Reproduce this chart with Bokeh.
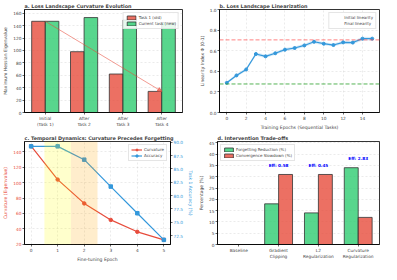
from bokeh.plotting import figure
from bokeh.layouts import column, row
from bokeh.models import (ColumnDataSource, FixedTicker, Range1d, LinearAxis, Span,
                          BoxAnnotation, Arrow, NormalHead, Legend, LegendItem,
                          NumeralTickFormatter)
from bokeh.core.properties import value
from bokeh.embed import file_html
from bokeh.resources import INLINE

# ---------------- data ----------------
stages = ["Initial\n(Task 1)", "After\nTask 2", "After\nTask 3", "After\nTask 4"]
curv_old = [147, 98, 62, 34]
curv_new = [147, 153, 149, 145]

epochs_b = [0, 1, 2, 3, 4, 5, 6, 7, 8, 9, 10, 11, 12, 13, 14, 15]
linearity = [0.288, 0.36, 0.418, 0.568, 0.545, 0.575, 0.61, 0.626, 0.651, 0.687,
             0.668, 0.655, 0.681, 0.679, 0.717, 0.717]
linearity_std = [0.012, 0.014, 0.015, 0.016, 0.015, 0.015, 0.016, 0.015, 0.016, 0.016,
                 0.015, 0.015, 0.016, 0.016, 0.018, 0.017]
initial_lin = 0.277
final_lin = 0.705

ft_epochs = [0, 1, 2, 3, 4, 5]
curvature_c = [147.5, 104, 73, 51.5, 36, 25.6]
accuracy_c = [89.25, 89.25, 86.75, 81.7, 76.7, 71.7]
phase_start = [0.5, 1.5]
phase_end = [1.5, 2.5]
phase_colors = ["yellow", "orange"]

interventions = ["Baseline", "Gradient\nClipping", "L2\nRegularization", "Curvature\nRegularization"]
forgetting_red = [0, 18, 14, 34]
conv_slow = [0, 31, 31, 12]

# ---------------- style ----------------
FONT = "DejaVu Sans"
RED = "#E74C3C"
GREEN = "#2ECC71"
BLUE = "#3498DB"
EDGE = "#333333"


def style(p):
    p.title.text_font = FONT
    p.title.text_font_size = "4.9px"
    p.title.text_font_style = "bold"
    p.title.standoff = 1
    p.outline_line_color = "black"
    p.outline_line_width = 0.8
    p.outline_line_alpha = 1
    for ax in p.axis:
        ax.axis_line_color = "black"
        ax.axis_line_width = 0.8
        ax.major_tick_out = 2
        ax.major_tick_in = 0
        ax.major_tick_line_width = 0.6
        ax.minor_tick_line_color = None
        ax.major_label_text_font = FONT
        ax.major_label_text_font_size = "4.3px"
        ax.axis_label_text_font = FONT
        ax.axis_label_text_font_size = "4.5px"
        ax.axis_label_text_font_style = "normal"
        ax.axis_label_standoff = 2
        ax.major_label_standoff = 1
    p.grid.grid_line_dash = "2 2"
    p.grid.grid_line_color = "#b0b0b0"
    p.grid.grid_line_alpha = 0.5
    p.grid.grid_line_width = 0.5


def style_legend(lg):
    lg.label_text_font = FONT
    lg.label_text_font_size = "4px"
    lg.glyph_width = 11
    lg.glyph_height = 5
    lg.label_height = 5
    lg.label_standoff = 2
    lg.spacing = 1
    lg.padding = 2
    lg.margin = 3
    lg.border_line_color = "#cccccc"
    lg.border_line_width = 0.5
    lg.background_fill_alpha = 0.85


W = 0.35

# ---------------- panel a ----------------
idx_a = list(range(len(stages)))
src_a = ColumnDataSource(dict(
    x_old=[i - W / 2 for i in idx_a], x_new=[i + W / 2 for i in idx_a],
    old=curv_old, new=curv_new))
pa = figure(width=196, height=132, output_backend="svg", toolbar_location=None,
            x_range=Range1d(-0.535, 3.535), y_range=Range1d(0, 166),
            min_border_left=19, min_border_right=14, min_border_top=2, min_border_bottom=14,
            title="a. Loss Landscape Curvature Evolution")
ra1 = pa.vbar(x="x_old", top="old", width=W, source=src_a, fill_color=RED, fill_alpha=0.8,
              line_color=EDGE, line_alpha=0.8, line_width=1)
ra2 = pa.vbar(x="x_new", top="new", width=W, source=src_a, fill_color=GREEN, fill_alpha=0.8,
              line_color=EDGE, line_alpha=0.8, line_width=1)
pa.add_layout(Arrow(end=NormalHead(size=4, fill_color=RED, line_color=RED, line_alpha=0.7, fill_alpha=0.7),
                    x_start=idx_a[0], y_start=curv_old[0], x_end=idx_a[-1], y_end=curv_old[-1],
                    line_color=RED, line_width=0.8, line_alpha=0.7))
pa.xaxis.ticker = FixedTicker(ticks=idx_a)
pa.xaxis.major_label_overrides = {i: s for i, s in enumerate(stages)}
pa.yaxis.ticker = FixedTicker(ticks=[0, 20, 40, 60, 80, 100, 120, 140, 160])
pa.yaxis.axis_label = "Maximum Hessian Eigenvalue"
pa.xgrid.visible = False
lga = Legend(items=[LegendItem(label="Task 1 (old)", renderers=[ra1]),
                    LegendItem(label="Current task (new)", renderers=[ra2])],
             location="top_right")
pa.add_layout(lga)
style(pa)
style_legend(lga)

# ---------------- panel b ----------------
src_b = ColumnDataSource(dict(x=epochs_b, y=linearity,
                              lo=[a - b for a, b in zip(linearity, linearity_std)],
                              hi=[a + b for a, b in zip(linearity, linearity_std)]))
pb = figure(width=185, height=132, output_backend="svg", toolbar_location=None,
            x_range=Range1d(-0.75, 15.75), y_range=Range1d(0, 1),
            min_border_left=18, min_border_right=2, min_border_top=2, min_border_bottom=14,
            title="b. Loss Landscape Linearization")
pb.varea(x="x", y1="lo", y2="hi", source=src_b, fill_color=BLUE, fill_alpha=0.2)
pb.line(x="x", y="y", source=src_b, line_color=BLUE, line_width=1.2)
pb.scatter(x="x", y="y", source=src_b, size=3, fill_color=BLUE, line_color=BLUE)
pb.add_layout(Span(location=initial_lin, dimension="width", line_color="#2ca02c",
                   line_dash="4 2", line_width=1, line_alpha=0.8))
pb.add_layout(Span(location=final_lin, dimension="width", line_color="#ff4d4d",
                   line_dash="4 2", line_width=1, line_alpha=0.7))
lb1 = pb.line(x=[], y=[], line_color="#2ca02c", line_dash="4 2", line_width=1, line_alpha=0.8)
lb2 = pb.line(x=[], y=[], line_color="#ff4d4d", line_dash="4 2", line_width=1, line_alpha=0.7)
lgb = Legend(items=[LegendItem(label="Initial linearity", renderers=[lb1]),
                    LegendItem(label="Final linearity", renderers=[lb2])],
             location="top_right")
pb.add_layout(lgb)
pb.xaxis.ticker = FixedTicker(ticks=[0, 2, 4, 6, 8, 10, 12, 14])
pb.yaxis.ticker = FixedTicker(ticks=[0, 0.2, 0.4, 0.6, 0.8, 1.0])
pb.yaxis.formatter = NumeralTickFormatter(format="0.0")
pb.xaxis.axis_label = "Training Epochs (Sequential Tasks)"
pb.yaxis.axis_label = "Linearity Index Φ (0-1)"
style(pb)
style_legend(lgb)

# ---------------- panel c ----------------
pc = figure(width=196, height=132, output_backend="svg", toolbar_location=None,
            x_range=Range1d(-0.25, 5.25), y_range=Range1d(19.5, 153.6),
            min_border_left=15, min_border_right=17, min_border_top=2, min_border_bottom=11,
            title="c. Temporal Dynamics: Curvature Precedes Forgetting")
for s, e, c in zip(phase_start, phase_end, phase_colors):
    pc.add_layout(BoxAnnotation(left=s, right=e, fill_color=c, fill_alpha=0.2, line_color=None))
pc.extra_y_ranges = {"acc": Range1d(70.83, 90.16)}
src_c = ColumnDataSource(dict(x=ft_epochs, curv=curvature_c, acc=accuracy_c))
rc1 = pc.line(x="x", y="curv", source=src_c, line_color=RED, line_width=1.2)
rc1m = pc.scatter(x="x", y="curv", source=src_c, size=3.5, fill_color=RED, line_color=RED)
rc2 = pc.line(x="x", y="acc", source=src_c, line_color=BLUE, line_width=1.2, y_range_name="acc")
rc2m = pc.scatter(x="x", y="acc", source=src_c, size=3.5, marker="square", fill_color=BLUE,
                  line_color=BLUE, y_range_name="acc")
rax = LinearAxis(y_range_name="acc", axis_label="Task 1 Accuracy (%)",
                 ticker=FixedTicker(ticks=[72.5, 75.0, 77.5, 80.0, 82.5, 85.0, 87.5, 90.0]),
                 formatter=NumeralTickFormatter(format="0.0"))
pc.add_layout(rax, "right")
pc.xaxis.ticker = FixedTicker(ticks=ft_epochs)
pc.xaxis.axis_label = "Fine-tuning Epoch"
pc.yaxis[0].ticker = FixedTicker(ticks=[20, 40, 60, 80, 100, 120, 140])
pc.yaxis[0].axis_label = "Curvature (Eigenvalue)"
lgc = Legend(items=[LegendItem(label="Curvature", renderers=[rc1, rc1m]),
                    LegendItem(label="Accuracy", renderers=[rc2, rc2m])],
             location="top_right")
pc.add_layout(lgc)
style(pc)
style_legend(lgc)
pc.yaxis[0].axis_label_text_color = RED
pc.yaxis[0].major_label_text_color = RED
rax.axis_label_text_color = BLUE
rax.major_label_text_color = BLUE

# ---------------- panel d ----------------
idx_d = list(range(len(interventions)))
src_d = ColumnDataSource(dict(
    xf=[i - W / 2 for i in idx_d], xc=[i + W / 2 for i in idx_d],
    f=forgetting_red, c=conv_slow))
pd_ = figure(width=185, height=132, output_backend="svg", toolbar_location=None,
             x_range=Range1d(-0.535, 3.535), y_range=Range1d(0, 45.6),
             min_border_left=17, min_border_right=2, min_border_top=2, min_border_bottom=11,
             title="d. Intervention Trade-offs")
rd1 = pd_.vbar(x="xf", top="f", width=W, source=src_d, fill_color=GREEN, fill_alpha=0.8,
               line_color=EDGE, line_alpha=0.8, line_width=1)
rd2 = pd_.vbar(x="xc", top="c", width=W, source=src_d, fill_color=RED, fill_alpha=0.8,
               line_color=EDGE, line_alpha=0.8, line_width=1)
eff_x, eff_y, eff_t = [], [], []
for i, f, c in zip(idx_d, forgetting_red, conv_slow):
    if c > 0:
        eff_x.append(i)
        eff_y.append(max(f, c) + 3)
        eff_t.append(f"Eff: {f / c:.2f}")
pd_.text(x=eff_x, y=eff_y, text=eff_t, text_font=value(FONT), text_font_size=value("4.2px"),
         text_font_style="bold", text_align="center", text_baseline="bottom", text_color="blue")
pd_.xaxis.ticker = FixedTicker(ticks=idx_d)
pd_.xaxis.major_label_overrides = {i: s for i, s in enumerate(interventions)}
pd_.yaxis.ticker = FixedTicker(ticks=[0, 5, 10, 15, 20, 25, 30, 35, 40, 45])
pd_.yaxis.axis_label = "Percentage (%)"
pd_.xgrid.visible = False
lgd = Legend(items=[LegendItem(label="Forgetting Reduction (%)", renderers=[rd1]),
                    LegendItem(label="Convergence Slowdown (%)", renderers=[rd2])],
             location="top_left")
pd_.add_layout(lgd)
style(pd_)
style_legend(lgd)

layout = column(row(pa, pb), row(pc, pd_))
open("out.html", "w").write(file_html(layout, INLINE))
